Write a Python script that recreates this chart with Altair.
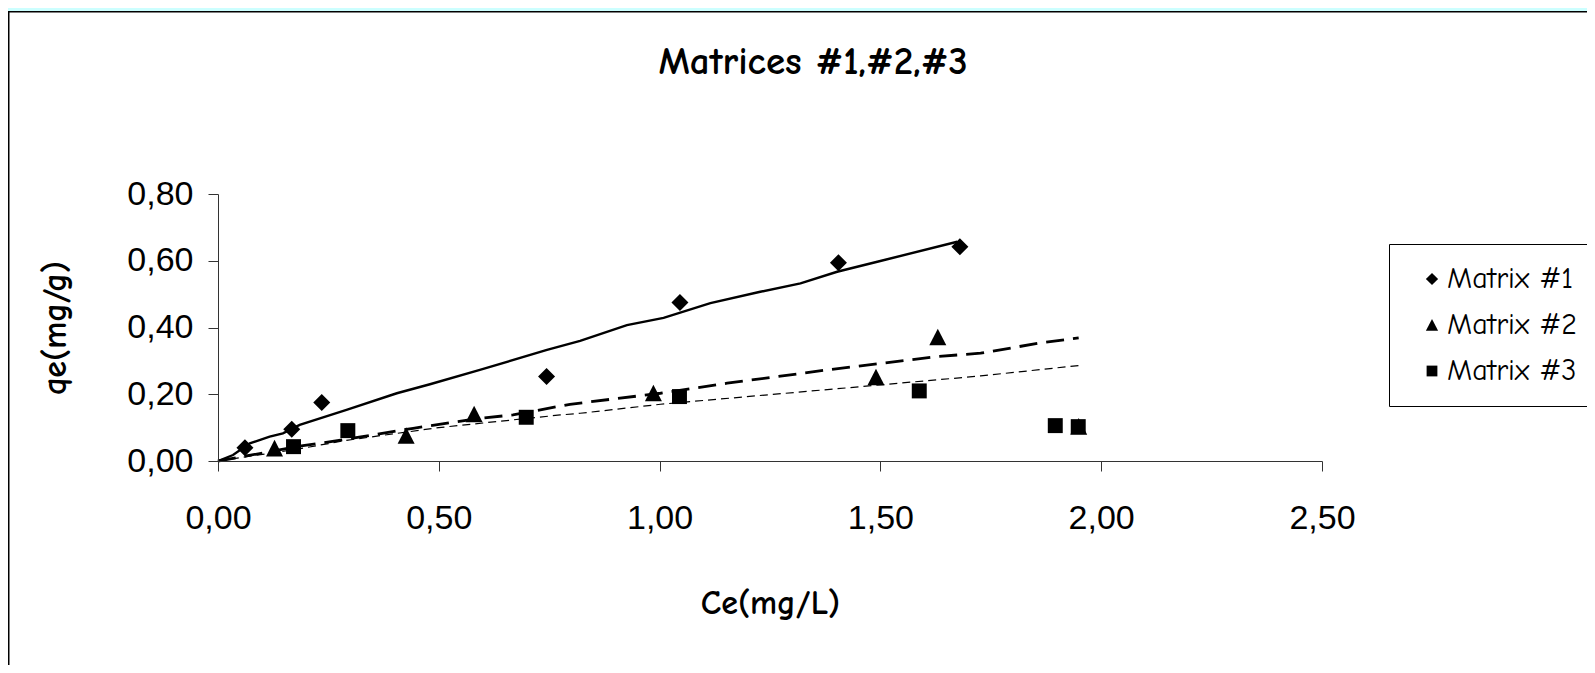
import altair as alt
import pandas as pd

# ---------------- data ----------------
series = ["Matrix #1", "Matrix #2", "Matrix #3"]
# diamond, triangle, square as unit paths
shapes = ["M0,-1L1,0L0,1L-1,0Z", "M0,-1L1,0.95L-1,0.95Z", "M-0.88,-0.88L0.88,-0.88L0.88,0.88L-0.88,0.88Z"]

m1_ce = [0.061, 0.167, 0.235, 0.744, 1.046, 1.405, 1.680]
m1_qe = [0.040, 0.095, 0.175, 0.253, 0.475, 0.594, 0.642]

m2_ce = [0.128, 0.426, 0.580, 0.986, 1.490, 1.630, 1.949]
m2_qe = [0.038, 0.076, 0.140, 0.203, 0.251, 0.371, 0.103]

m3_ce = [0.171, 0.294, 0.698, 1.045, 1.588, 1.896, 1.948]
m3_qe = [0.043, 0.091, 0.131, 0.193, 0.210, 0.106, 0.103]

# fitted curves
fit1_ce = [0, 0.034, 0.072, 0.117, 0.147, 0.185, 0.291, 0.405, 0.48, 0.593, 0.745,
           0.82, 0.926, 1.009, 1.115, 1.228, 1.319, 1.402, 1.493, 1.674]
fit1_qe = [0, 0.018, 0.053, 0.073, 0.083, 0.108, 0.153, 0.203, 0.23, 0.273, 0.333,
           0.36, 0.407, 0.429, 0.473, 0.507, 0.532, 0.567, 0.597, 0.657]

fit2_ce = [0, 0.064, 0.178, 0.29, 0.442, 0.593, 0.668, 0.797, 1.002, 1.153, 1.38,
           1.493, 1.629, 1.727, 1.863, 1.949]
fit2_qe = [0, 0.015, 0.043, 0.065, 0.098, 0.128, 0.138, 0.17, 0.203, 0.233, 0.273,
           0.291, 0.313, 0.323, 0.354, 0.369]

fit3_ce = [0, 0.178, 0.291, 0.5, 0.775, 0.82, 1.002, 1.5, 1.727, 1.949]
fit3_qe = [0, 0.035, 0.062, 0.10, 0.138, 0.143, 0.17, 0.228, 0.255, 0.286]

x_ticks = [0, 0.5, 1.0, 1.5, 2.0, 2.5]
y_ticks = [0, 0.2, 0.4, 0.6, 0.8]
chart_title = "Matrices #1,#2,#3"

# ---------------- tables ----------------
pts = pd.DataFrame({
    "ce": m1_ce + m2_ce + m3_ce,
    "qe": m1_qe + m2_qe + m3_qe,
    "series": [series[0]] * len(m1_ce) + [series[1]] * len(m2_ce) + [series[2]] * len(m3_ce),
})
fit1 = pd.DataFrame({"ce": fit1_ce, "qe": fit1_qe})
fit2 = pd.DataFrame({"ce": fit2_ce, "qe": fit2_qe})
fit3 = pd.DataFrame({"ce": fit3_ce, "qe": fit3_qe})

# ---------------- layout ----------------
W, H = 1104, 267
PL, PT, PR, PB = 210, 186, 265, 204
COMIC = "Comic Sans MS, Comic Neue, DejaVu Sans"
NUM = "Liberation Sans"
label_expr = "replace(format(datum.value, '.2f'), '.', ',')"

X = alt.X("ce:Q",
          scale=alt.Scale(domain=[0, 2.5], nice=False, zero=True),
          axis=alt.Axis(title="Ce(mg/L)", values=x_ticks, labelExpr=label_expr,
                        labelFont=NUM, labelFontSize=34, labelColor="black",
                        labelBaseline="middle", labelPadding=47, labelFlush=False,
                        tickSize=10, tickColor="#333333", domainColor="#333333",
                        grid=False, titleFont=COMIC, titleFontSize=34,
                        titleFontWeight="bold", titleColor="black",
                        titleX=W / 2, titleY=142, titleBaseline="middle",
                        titleAlign="center", zindex=2))
Y = alt.Y("qe:Q",
          scale=alt.Scale(domain=[0, 0.8], nice=False),
          axis=alt.Axis(title="qe(mg/g)", values=y_ticks, labelExpr=label_expr,
                        labelFont=NUM, labelFontSize=34, labelColor="black",
                        labelPadding=15, labelFlush=False, tickSize=10,
                        tickColor="#333333", domainColor="#333333", grid=False,
                        titleFont=COMIC, titleFontSize=34, titleFontWeight="bold",
                        titleColor="black", titleX=-163, titleY=H / 2,
                        titleAngle=270, titleBaseline="middle", titleAlign="center",
                        zindex=2))

panel = alt.Chart(pd.DataFrame({"k": [0]})).mark_rect(
    fill="white", stroke="black", strokeWidth=1.5
).encode(
    x=alt.value(-PL + 0.75), x2=alt.value(W + PR + 20),
    y=alt.value(-PT + 3.75), y2=alt.value(H + PB + 20),
)

title = alt.Chart(pd.DataFrame({"t": [chart_title]})).mark_text(
    font=COMIC, fontSize=39, fontWeight="bold", color="black",
    align="center", baseline="middle"
).encode(text="t:N", x=alt.value(595), y=alt.value(-132))

line1 = alt.Chart(fit1).mark_line(color="black", strokeWidth=2.4).encode(x=X, y=Y)
line2 = alt.Chart(fit2).mark_line(color="black", strokeWidth=2.8,
                                  strokeDash=[18, 9]).encode(x=X, y=Y)
line3 = alt.Chart(fit3).mark_line(color="black", strokeWidth=1.2,
                                  strokeDash=[8, 5]).encode(x=X, y=Y)

points = alt.Chart(pts).mark_point(filled=True, color="black", opacity=1, size=289).encode(
    x=X, y=Y,
    shape=alt.Shape("series:N",
                    scale=alt.Scale(domain=series, range=shapes),
                    legend=alt.Legend(orient="none", legendX=1171, legendY=50,
                                      title=None, labelFont=COMIC, labelFontSize=30,
                                      labelColor="black", symbolSize=150,
                                      symbolFillColor="black", symbolStrokeColor="black",
                                      strokeColor="black", padding=20, rowPadding=16,
                                      symbolOffset=8, labelOffset=0)),
)

chart = alt.layer(panel, title, line1, line2, line3, points).properties(
    width=W, height=H,
    padding={"left": PL, "top": PT, "right": PR, "bottom": PB},
    autosize=alt.AutoSizeParams(type="none"),
    background="#CCFFFF",
).configure_view(stroke=None)

chart.save("out.html", embed_options={"renderer": "svg", "actions": False})
